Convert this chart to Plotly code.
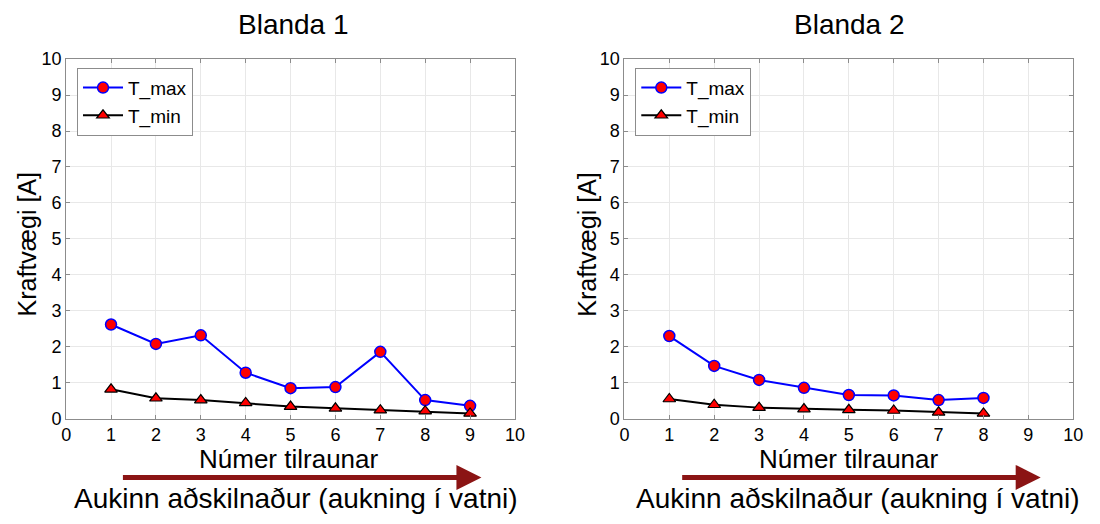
import plotly.graph_objects as go

trials1 = [1, 2, 3, 4, 5, 6, 7, 8, 9]
tmax1 = [2.62, 2.08, 2.32, 1.28, 0.85, 0.88, 1.86, 0.52, 0.36]
tmin1 = [0.82, 0.57, 0.52, 0.44, 0.34, 0.29, 0.24, 0.21, 0.15]

trials2 = [1, 2, 3, 4, 5, 6, 7, 8]
tmax2 = [2.30, 1.47, 1.08, 0.86, 0.66, 0.65, 0.52, 0.58]
tmin2 = [0.55, 0.39, 0.31, 0.27, 0.25, 0.23, 0.18, 0.15]

titles = ["Blanda 1", "Blanda 2"]
xlabel = "Númer tilraunar"
ylabel = "Kraftvægi [A]"
arrow_label = "Aukinn aðskilnaður (aukning í vatni)"
ticks = list(range(0, 11))

FONT = "Liberation Sans, Arial, sans-serif"
W, H = 1100, 524


def py(y_px):
    """pixel row (from top) -> paper fraction"""
    return 1 - y_px / H


fig = go.Figure()

datasets = [(trials1, tmax1, tmin1), (trials2, tmax2, tmin2)]
for i, (tr, mx, mn) in enumerate(datasets):
    xa = "x" if i == 0 else "x2"
    ya = "y" if i == 0 else "y2"
    lg = "legend" if i == 0 else "legend2"
    fig.add_trace(go.Scatter(x=tr, y=mx, mode="lines+markers", name="T_max",
                             line=dict(color="#0000ff", width=2),
                             marker=dict(symbol="circle", size=11, color="#ff0000",
                                         line=dict(color="#0000ff", width=1.5)),
                             xaxis=xa, yaxis=ya, legend=lg))
    fig.add_trace(go.Scatter(x=tr, y=mn, mode="lines+markers", name="T_min",
                             line=dict(color="#000000", width=2),
                             marker=dict(symbol="triangle-up", size=11, color="#ff0000",
                                         line=dict(color="#000000", width=1.2)),
                             xaxis=xa, yaxis=ya, legend=lg))

dom_x = [(62 / W, 517 / W), (628 / W, 1083 / W)]
dom_y = (py(425), py(51))

axis_common = dict(range=[0, 10], tickvals=ticks, showgrid=True, gridcolor="#e8e8e8",
                   gridwidth=1, showline=True, linecolor="#8c8c8c", linewidth=1, mirror="ticks",
                   ticks="inside", ticklen=4, tickcolor="#8c8c8c", zeroline=False,
                   tickfont=dict(family=FONT, size=18, color="#000000"))

legend_common = dict(y=py(60), xanchor="left", yanchor="top",
                     bgcolor="white", bordercolor="#8c8c8c", borderwidth=1,
                     font=dict(family=FONT, size=19, color="#000000"),
                     tracegroupgap=0, itemwidth=40)

layout = dict(
    width=W, height=H, margin=dict(l=0, r=0, t=0, b=0, pad=0), autosize=False,
    paper_bgcolor="white", plot_bgcolor="white", showlegend=True,
    xaxis=dict(domain=dom_x[0], anchor="y", **axis_common),
    yaxis=dict(domain=dom_y, anchor="x", **axis_common),
    xaxis2=dict(domain=dom_x[1], anchor="y2", **axis_common),
    yaxis2=dict(domain=dom_y, anchor="x2", **axis_common),
    legend=dict(x=73 / W, **legend_common),
    legend2=dict(x=639 / W, **legend_common),
)
fig.update_layout(**layout)

title_cx = [292 / W, 856 / W]
xlabel_cx = [288 / W, 856 / W]
arrow_cx = [295 / W, 865 / W]
for i in range(2):
    fig.add_annotation(text=titles[i], x=title_cx[i], y=py(15), xref="paper", yref="paper",
                       xanchor="center", yanchor="middle",
                       showarrow=False, font=dict(family=FONT, size=28, color="#000000"))
    fig.add_annotation(text=xlabel, x=xlabel_cx[i], y=py(467), xref="paper", yref="paper",
                       xanchor="center", yanchor="middle",
                       showarrow=False, font=dict(family=FONT, size=26, color="#000000"))
    fig.add_annotation(text=arrow_label, x=arrow_cx[i], y=py(508), xref="paper", yref="paper",
                       xanchor="center", yanchor="middle",
                       showarrow=False, font=dict(family=FONT, size=28, color="#000000"))
    fig.add_annotation(text=ylabel, x=(22 if i == 0 else 590) / W, y=py(243),
                       xref="paper", yref="paper", xanchor="center", yanchor="middle",
                       showarrow=False, textangle=-90,
                       font=dict(family=FONT, size=25, color="#000000"))
    x0 = 123 if i == 0 else 690
    x1 = 483 if i == 0 else 1050
    fig.add_annotation(x=x1 / W, y=py(486), ax=-(x1 - x0), ay=0,
                       xref="paper", yref="paper", axref="pixel", ayref="pixel",
                       text="", showarrow=True, arrowhead=2, arrowsize=1.0, arrowwidth=5,
                       arrowcolor="#8b1414")

fig.write_html("out.html")
